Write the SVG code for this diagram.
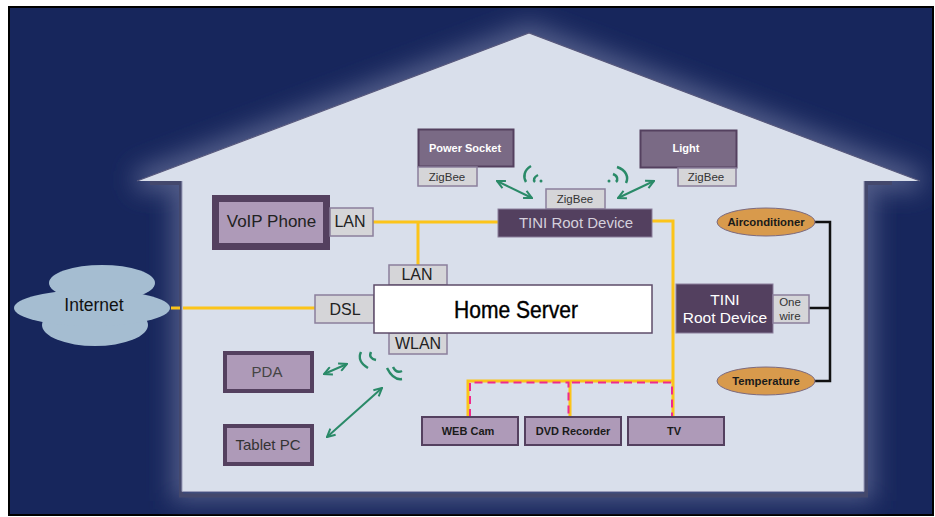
<svg xmlns="http://www.w3.org/2000/svg" width="935" height="517" viewBox="0 0 935 517">
<style>
text{font-family:"Liberation Sans",Arial,sans-serif;text-anchor:middle}
.tag{fill:#d5d5d8;stroke:#8b7f9c;stroke-width:1.5}
.dev{fill:#ae9ab8;stroke:#54405f}
.dk{fill:#53405f;stroke:#8b7f9c;stroke-width:1}
.mid{fill:#7a6a85;stroke:#54405f;stroke-width:2}
.sm{fill:#333;font-size:11.500px}
.b{font-weight:bold;font-size:11px;fill:#1a1a1a}
.w{font-weight:bold;font-size:11px;fill:#fff}
.y{fill:none;stroke:#fcc419;stroke-width:3}
.p{fill:none;stroke:#ee2a8e;stroke-width:2;stroke-dasharray:8 5}
.g{fill:none;stroke:#2a8a68;stroke-width:2.500}
.a{fill:none;stroke:#2a8a68;stroke-width:2;marker-start:url(#h);marker-end:url(#h)}
.k{fill:none;stroke:#111;stroke-width:2.5}
.o{fill:#d89a4c;stroke:#7b6a80;stroke-width:1}
</style>
<defs>
<filter id="bl" x="-20%" y="-20%" width="140%" height="140%"><feGaussianBlur stdDeviation="12"/></filter>
<clipPath id="fr"><rect x="9" y="7" width="924" height="508"/></clipPath>
<marker id="h" viewBox="0 0 10 10" refX="9" refY="5" markerWidth="10" markerHeight="10" orient="auto-start-reverse" markerUnits="userSpaceOnUse"><path d="M1 1 9 5 1 9" fill="none" stroke="#2a8a68" stroke-width="2"/></marker>
</defs>
<rect width="935" height="517" fill="#fff"/>
<rect x="9" y="7" width="924" height="508" fill="#17265c" stroke="#000" stroke-width="2"/>
<g clip-path="url(#fr)">
<path d="M137 181 529 33 920 181H864V491H182V181Z" fill="#515c88" stroke="#515c88" stroke-width="20" filter="url(#bl)"/>
</g>
<g id="house">
<path d="M150 183H181V495.500H866V183H892" fill="none" stroke="#44486c" stroke-width="4"/>
<path d="M137 181 529 33 920 181H864V491H182V181Z" fill="#d9dfeb" stroke="none"/>
<path d="M137 181 529 33 920 181" fill="none" stroke="#57587c" stroke-width="1.2"/>
<path d="M182 181V491.500H864V181" fill="none" stroke="#9a9dba" stroke-width="1"/>
</g>
<g id="connectors">
<path class="y" d="M171 308H180M183 308H315M373 222H498M418 222V265M652 221H673V417M468 417V381H673M570 381V417"/>
<path class="p" d="M470 417V382.500H568.500V417M572 382.500H672V417"/>
<path class="k" d="M813 222H830V381H813M809 308H830"/>
<path class="a" d="M497 181 532 198"/>
<path class="a" d="M618 198 654 181"/>
<path class="a" d="M324 374 347 364"/>
<path class="a" d="M327 437 382 388"/>
<path class="g" d="M531 166C524 170 523 177 526 182M538 175C534 177 533 180 535 182M617 167C626 170 629 177 626 183M613 174C618 176 618 180 616 182"/>
<path class="g" d="M361 352C358 358 361 364 368 368M371 352C369 356 371 359 376 360M387 368C391 376 396 380 402 379M393 367C395 371 398 373 402 371"/>
<circle cx="541" cy="181" r="1.500" fill="#2a8a68"/><circle cx="609" cy="181" r="1.500" fill="#2a8a68"/>
</g>
<g id="internet">
<ellipse cx="102" cy="283" rx="53" ry="18" fill="#a5bdd1"/>
<ellipse cx="95" cy="325" rx="53" ry="21" fill="#a5bdd1"/>
<ellipse cx="92" cy="308" rx="78" ry="18" fill="#a5bdd1"/>
<text x="94" y="311" font-size="17.500" fill="#111">Internet</text>
</g>
<g id="power-socket">
<rect class="mid" x="418.500" y="129.500" width="95" height="37"/>
<text class="w" x="465" y="152">Power Socket</text>
<rect class="tag" x="418" y="167" width="59" height="19"/>
<text class="sm" x="447" y="181">ZigBee</text>
</g>
<g id="light">
<rect class="mid" x="640.500" y="130.500" width="96" height="37"/>
<text class="w" x="686" y="152">Light</text>
<rect class="tag" x="678" y="168" width="58" height="18"/>
<text class="sm" x="706" y="181">ZigBee</text>
</g>
<g id="tini-root-top">
<rect class="tag" x="546" y="189" width="59" height="20"/>
<text class="sm" x="575" y="203">ZigBee</text>
<rect class="dk" x="498" y="209" width="154" height="28"/>
<text x="576" y="228" font-size="15" fill="#d5d0dc">TINI Root Device</text>
</g>
<g id="voip-phone">
<rect class="dev" x="215.500" y="198.500" width="111" height="48" stroke-width="7"/>
<text x="271.500" y="227" font-size="17" fill="#222">VoIP Phone</text>
<rect class="tag" x="330" y="208" width="43" height="28"/>
<text x="350" y="227" font-size="16" fill="#222">LAN</text>
</g>
<g id="home-server">
<rect class="tag" x="389" y="265" width="58" height="20"/>
<text x="417" y="280" font-size="16" fill="#222">LAN</text>
<rect class="tag" x="315" y="295" width="59" height="28"/>
<text x="345" y="315" font-size="16" fill="#222">DSL</text>
<rect class="tag" x="389" y="333" width="58" height="21"/>
<text x="418" y="349" font-size="16" fill="#222">WLAN</text>
<rect x="374" y="285" width="278" height="48" fill="#fff" stroke="#5e4c6a" stroke-width="1.500"/>
<text x="516" y="318" font-size="24" textLength="124" lengthAdjust="spacingAndGlyphs" fill="#000" stroke="#000" stroke-width=".4">Home Server</text>
</g>
<g id="pda">
<rect class="dev" x="225" y="353" width="87" height="38" stroke-width="4"/>
<text x="267" y="377" font-size="15" fill="#444">PDA</text>
</g>
<g id="tablet-pc">
<rect class="dev" x="225" y="426" width="87" height="38" stroke-width="4"/>
<text x="268" y="450" font-size="15" fill="#333">Tablet PC</text>
</g>
<g id="web-cam">
<rect class="dev" x="422" y="417" width="96" height="28" stroke-width="2"/>
<text class="b" x="468" y="435">WEB Cam</text>
</g>
<g id="dvd-recorder">
<rect class="dev" x="525" y="417" width="96" height="28" stroke-width="2"/>
<text class="b" x="573" y="435">DVD Recorder</text>
</g>
<g id="tv">
<rect class="dev" x="628" y="417" width="96" height="28" stroke-width="2"/>
<text class="b" x="674" y="435">TV</text>
</g>
<g id="tini-root-right">
<rect class="dk" x="676" y="284" width="97" height="49"/>
<text x="725" y="305" font-size="15.500" fill="#fff">TINI</text>
<text x="725" y="323" font-size="15.500" fill="#fff">Root Device</text>
<rect class="tag" x="773" y="295" width="36" height="28"/>
<text class="sm" x="790" y="306">One</text>
<text class="sm" x="790" y="320">wire</text>
</g>
<g id="airconditioner">
<ellipse class="o" cx="766" cy="222" rx="49" ry="14"/>
<text class="b" x="766" y="226" style="font-size:11.300px">Airconditioner</text>
</g>
<g id="temperature">
<ellipse class="o" cx="766" cy="381" rx="49" ry="14"/>
<text class="b" x="766" y="385" style="font-size:11.300px">Temperature</text>
</g>
</svg>
